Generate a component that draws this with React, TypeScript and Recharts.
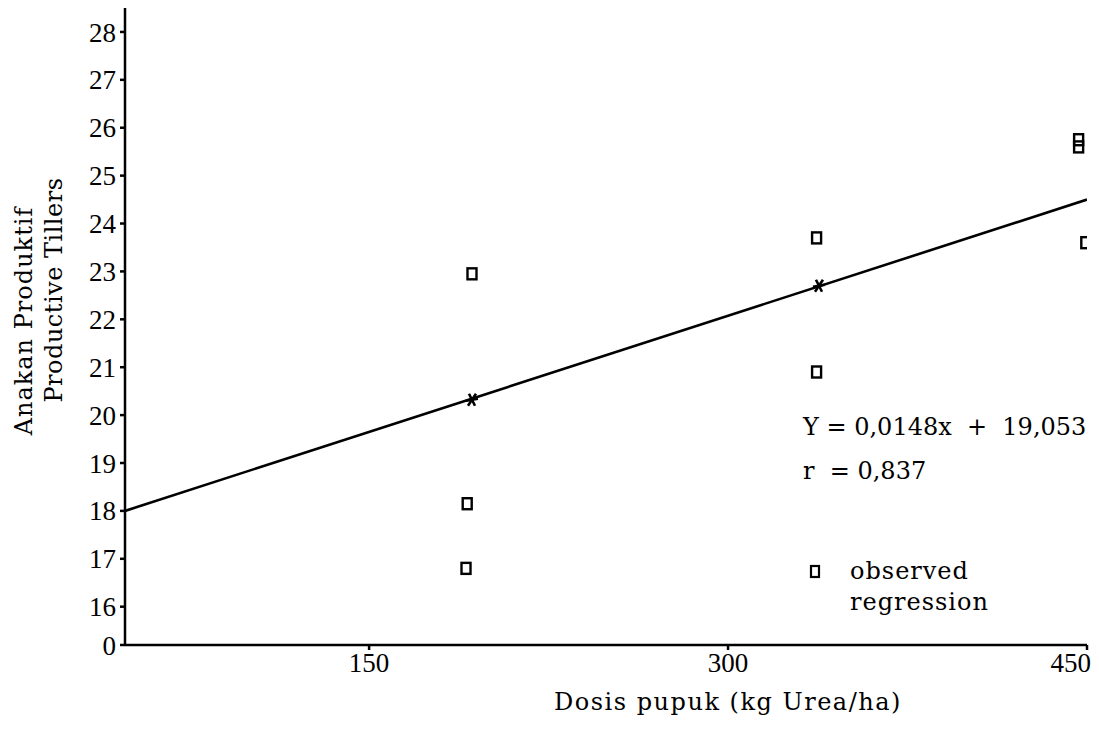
import {
  ComposedChart,
  Scatter,
  Line,
  XAxis,
  YAxis,
} from "recharts";

// observed tillers per dose
const obsDose = [193, 191, 190.5, 337, 337, 446.5, 446.5, 449.5];
const obsTillers = [22.95, 18.15, 16.8, 23.7, 20.9, 25.75, 25.6, 23.6];

// regression estimates (asterisks)
const regDose = [193, 338];
const regTillers = [20.32, 22.7];

// fitted line end points
const lineDose = [48, 450];
const lineTillers = [18.0, 24.5];

const xTicks = [150, 300, 450];
// first tick sits at the axis break and reads "0"
const yTicks = [15.2, 16, 17, 18, 19, 20, 21, 22, 23, 24, 25, 26, 27, 28];
const yTickLabels = ["0", "16", "17", "18", "19", "20", "21", "22", "23", "24", "25", "26", "27", "28"];

const equation = "Y = 0,0148x  +  19,053";
const rText = "r  = 0,837";
const legendItems = ["observed", "regression"];
const xTitle = "Dosis pupuk (kg Urea/ha)";
const yTitle = ["Anakan Produktif", "Productive Tillers"];

const observed = obsDose.map((x, i) => ({ x, y: obsTillers[i] }));
const regression = regDose.map((x, i) => ({ x, y: regTillers[i] }));
const fitted = lineDose.map((x, i) => ({ x, y: lineTillers[i] }));

const FONT = "'DejaVu Serif', serif";
const NUM_FONT = "'Liberation Serif', serif";
const INK = "#000";

const SquareDot = (props: any) => {
  const { cx, cy } = props;
  return (
    <rect x={cx - 4.5} y={cy - 5.5} width={9} height={11} fill="none" stroke={INK} strokeWidth={2.4} />
  );
};

const StarDot = (props: any) => {
  const { cx, cy } = props;
  return (
    <g stroke={INK} strokeWidth={2.6}>
      <line x1={cx - 6} y1={cy + 1} x2={cx + 6} y2={cy - 1} />
      <line x1={cx - 3} y1={cy - 6} x2={cx + 3} y2={cy + 6} />
      <line x1={cx + 4} y1={cy - 6} x2={cx - 4} y2={cy + 6} />
    </g>
  );
};

const XTick = (props: any) => {
  const { x, y, payload } = props;
  const last = payload.value === xTicks[xTicks.length - 1];
  return (
    <text
      x={last ? x + 4 : x}
      y={y}
      dy="0.71em"
      textAnchor={last ? "end" : "middle"}
      fontFamily={NUM_FONT}
      fontSize={27}
      fill={INK}
    >
      {payload.value}
    </text>
  );
};

export default function App() {
  return (
    <div style={{ position: "absolute", left: 0, top: 0, width: 1099, height: 730, background: "#fff" }}>
      <ComposedChart
        width={1099}
        height={730}
        margin={{ top: 8, right: 12, left: 65, bottom: 45 }}
      >
        <XAxis
          type="number"
          dataKey="x"
          domain={[48, 450]}
          ticks={xTicks}
          allowDataOverflow
          height={40}
          stroke={INK}
          strokeWidth={2.5}
          tickSize={5}
          tickMargin={3}
          tick={<XTick />}
        />
        <YAxis
          type="number"
          dataKey="y"
          domain={[15.2, 28.5]}
          ticks={yTicks}
          interval={0}
          allowDataOverflow
          width={60}
          stroke={INK}
          strokeWidth={2.5}
          tickSize={5}
          tickMargin={4}
          tickFormatter={(v: number) => yTickLabels[yTicks.indexOf(v)]}
          tick={{ fontFamily: NUM_FONT, fontSize: 27, fill: INK }}
        />
        <Line
          data={fitted}
          dataKey="y"
          type="linear"
          stroke={INK}
          strokeWidth={2.6}
          dot={false}
          activeDot={false}
          isAnimationActive={false}
        />
        <Scatter data={observed} shape={<SquareDot />} isAnimationActive={false} />
        <Scatter data={regression} shape={<StarDot />} isAnimationActive={false} />
      </ComposedChart>

      {/* titles, equation and legend drawn on top */}
      <svg
        width={1099}
        height={730}
        style={{ position: "absolute", left: 0, top: 0, pointerEvents: "none" }}
        fontFamily={FONT}
        fill={INK}
      >
        <text x={728} y={703} textAnchor="middle" fontSize={24} letterSpacing={1.5} dominantBaseline="middle">
          {xTitle}
        </text>
        <text x={25} y={321} transform="rotate(-90 25 321)" textAnchor="middle" fontSize={24} letterSpacing={1} dominantBaseline="middle">
          {yTitle[0]}
        </text>
        <text x={55} y={290} transform="rotate(-90 55 290)" textAnchor="middle" fontSize={24} letterSpacing={0.5} dominantBaseline="middle">
          {yTitle[1]}
        </text>
        <text x={803} y={428} fontSize={24} dominantBaseline="middle" xmlSpace="preserve">
          {equation}
        </text>
        <text x={803} y={472} fontSize={24} dominantBaseline="middle" xmlSpace="preserve">
          {rText}
        </text>
        <rect x={811} y={566} width={8} height={11} fill="none" stroke={INK} strokeWidth={2.2} />
        <text x={850} y={572} fontSize={24} letterSpacing={1} dominantBaseline="middle">
          {legendItems[0]}
        </text>
        <text x={850} y={603} fontSize={24} letterSpacing={1} dominantBaseline="middle">
          {legendItems[1]}
        </text>
      </svg>
    </div>
  );
}
